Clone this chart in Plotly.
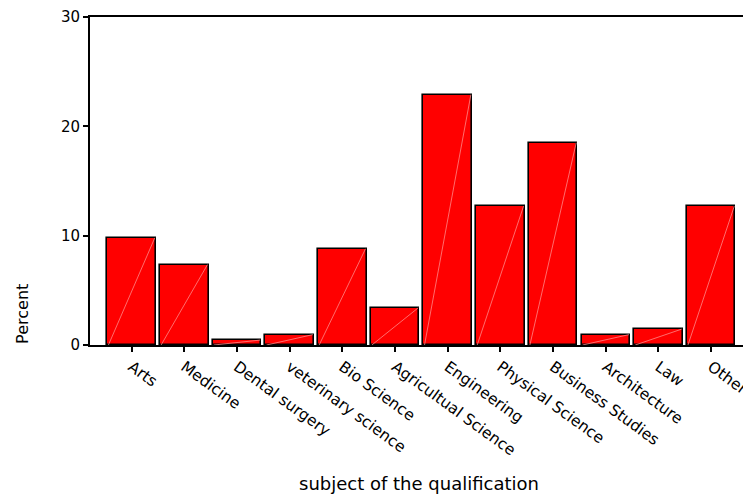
import plotly.graph_objects as go

categories = ["Arts", "Medicine", "Dental surgery", "veterinary science", "Bio Science",
              "Agricultual Science", "Engineering", "Physical Science", "Business Studies",
              "Architecture", "Law", "Other"]
percent = [9.8, 7.35, 0.45, 0.95, 8.8, 3.4, 22.9, 12.7, 18.5, 0.95, 1.45, 12.7]
y_ticks = [0, 10, 20, 30]

BAR_WIDTH = 0.92
FONT = "DejaVu Sans, Liberation Sans, Arial, sans-serif"

idx = list(range(len(categories)))

fig = go.Figure()
fig.add_trace(go.Bar(
    x=idx, y=percent, width=BAR_WIDTH,
    marker=dict(color="#ff0000", line=dict(color="black", width=1.6)),
    hoverinfo="x+y", showlegend=False,
))

# faint diagonal highlight inside each bar (bottom-left to top-right)
dx, dy = [], []
for i, v in zip(idx, percent):
    dx += [i - BAR_WIDTH / 2 + 0.02, i + BAR_WIDTH / 2 - 0.02, None]
    dy += [0, v, None]
fig.add_trace(go.Scatter(
    x=dx, y=dy, mode="lines",
    line=dict(color="rgba(255,150,150,0.9)", width=0.8),
    hoverinfo="skip", showlegend=False,
))

# the page body has an 8px default margin, so the figure is drawn 8px in/down
fig.update_layout(
    width=743, height=487,
    margin=dict(l=82, r=0, t=7.5, b=149.5),
    paper_bgcolor="white", plot_bgcolor="white",
    font=dict(family=FONT, color="black"),
    bargap=0,
    xaxis=dict(
        range=[-0.79, 11.70],
        tickmode="array", tickvals=idx, ticktext=categories,
        tickangle=36,
        tickfont=dict(family=FONT, size=15.5, color="black"),
        ticklabeloverflow="allow",
        showline=True, linecolor="black", linewidth=1.6, mirror=True,
        ticks="outside", ticklen=5, tickwidth=1.5, tickcolor="black",
        showgrid=False, zeroline=False,
    ),
    yaxis=dict(
        range=[0, 30],
        tickmode="array", tickvals=y_ticks,
        tickfont=dict(family=FONT, size=15, color="black"),
        ticklabeloverflow="allow",
        showline=True, linecolor="black", linewidth=2,
        ticks="outside", ticklen=5, tickwidth=1.5, tickcolor="black",
        showgrid=False, zeroline=False,
    ),
    annotations=[
        dict(text="Percent", xref="paper", yref="paper", x=-0.103, y=0.0955,
             textangle=-90, showarrow=False, xanchor="center", yanchor="middle",
             font=dict(family=FONT, size=16, color="black")),
        dict(text="subject of the qualification", xref="paper", yref="paper",
             x=0.5, y=-0.421, showarrow=False, xanchor="center", yanchor="middle",
             font=dict(family=FONT, size=18, color="black")),
    ],
)

fig.write_html("out.html")
